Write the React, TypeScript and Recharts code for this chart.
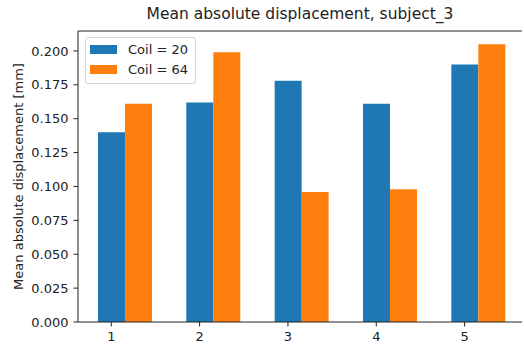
import { Bar, BarChart, Legend, XAxis, YAxis } from "recharts";

const subjects = ["1", "2", "3", "4", "5"];
const coil20 = [0.14, 0.162, 0.178, 0.161, 0.19];
const coil64 = [0.161, 0.199, 0.096, 0.098, 0.205];
const yTicks = [0, 0.025, 0.05, 0.075, 0.1, 0.125, 0.15, 0.175, 0.2];

const data = subjects.map((s, i) => ({ subject: s, c20: coil20[i], c64: coil64[i] }));

const FONT = "DejaVu Sans, sans-serif";
const INK = "#222";
const BLUE = "#1f77b4";
const ORANGE = "#ff7f0e";
// ticks sit under the blue bar (matplotlib style), half a bar left of the band centre
const BAR_HALF = 13.2;

const XTick = (props: any) => {
  const { x, y, payload } = props;
  const cx = x - BAR_HALF;
  return (
    <g>
      <line x1={cx} x2={cx} y1={y - 6} y2={y - 1.5} stroke={INK} />
      <text x={cx} y={y} dy={13} textAnchor="middle" fill={INK} fontSize={13} fontFamily={FONT}>
        {payload.value}
      </text>
    </g>
  );
};

const YLabel = (props: any) => {
  const { viewBox } = props;
  const cx = viewBox.x + 18;
  const cy = viewBox.y + viewBox.height / 2;
  return (
    <text
      x={cx}
      y={cy}
      transform={`rotate(-90 ${cx} ${cy})`}
      textAnchor="middle"
      dominantBaseline="central"
      fill={INK}
      fontSize={13}
      fontFamily={FONT}
    >
      Mean absolute displacement [mm]
    </text>
  );
};

const LegendBox = (props: any) => (
  <div
    style={{
      border: "1px solid #d6d6d6",
      borderRadius: 3,
      background: "rgba(255,255,255,0.8)",
      padding: "1px 7px 4px 4px",
      fontFamily: FONT,
      fontSize: 13,
      color: INK,
    }}
  >
    {props.payload.map((p: any) => (
      <div key={p.value} style={{ display: "flex", alignItems: "center", height: 20 }}>
        <span style={{ width: 27, height: 9, background: p.color, marginRight: 11 }} />
        {p.value}
      </div>
    ))}
  </div>
);

export default function App() {
  return (
    <div style={{ position: "absolute", left: 0, top: 0, width: 524, height: 352, background: "#fff" }}>
      <div
        style={{
          position: "absolute",
          left: 78,
          top: 5,
          width: 444,
          textAlign: "center",
          fontFamily: FONT,
          fontSize: 15.5,
          color: INK,
        }}
      >
        Mean absolute displacement, subject_3
      </div>
      <BarChart
        width={524}
        height={352}
        data={data}
        margin={{ top: 30, right: 2, left: 0, bottom: 0 }}
        barCategoryGap="20%"
        barGap={0}
      >
        <XAxis
          dataKey="subject"
          height={30}
          padding={{ left: 2.3, right: 0 }}
          axisLine={{ stroke: INK }}
          tickLine={false}
          tickSize={6}
          tickMargin={0}
          tick={<XTick />}
        />
        <XAxis
          xAxisId="top"
          dataKey="subject"
          orientation="top"
          height={1}
          tick={false}
          tickLine={false}
          axisLine={{ stroke: INK }}
        />
        <YAxis
          width={78}
          domain={[0, 0.2147]}
          ticks={yTicks}
          allowDataOverflow
          tickFormatter={(v: number) => v.toFixed(3)}
          tick={{ fill: INK, fontSize: 13, fontFamily: FONT }}
          tickSize={4.5}
          tickMargin={5}
          axisLine={{ stroke: INK }}
          tickLine={{ stroke: INK }}
          label={<YLabel />}
        />
        <YAxis
          yAxisId="right"
          orientation="right"
          width={0}
          tick={false}
          tickLine={false}
          axisLine={{ stroke: INK }}
        />
        <Legend
          layout="horizontal"
          verticalAlign="middle"
          content={<LegendBox />}
          wrapperStyle={{ left: 85, top: 37, width: "auto" }}
        />
        <Bar dataKey="c20" name="Coil = 20" fill={BLUE} isAnimationActive={false} />
        <Bar dataKey="c64" name="Coil = 64" fill={ORANGE} isAnimationActive={false} />
      </BarChart>
    </div>
  );
}
